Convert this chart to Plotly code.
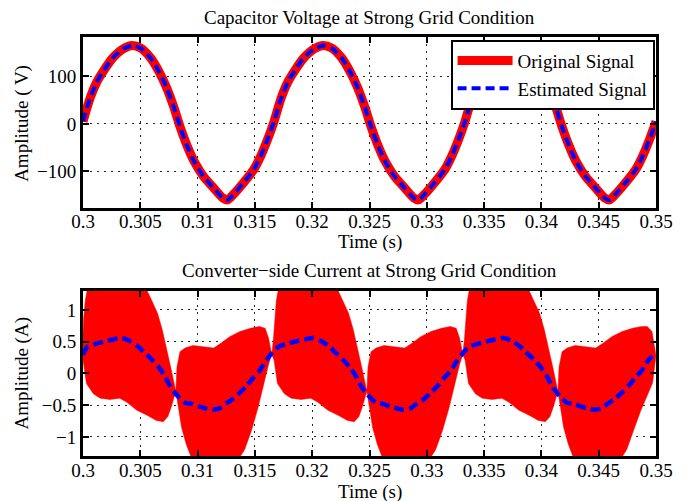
import plotly.graph_objects as go

# ---------------- data ----------------
x_ticks = [0.3, 0.305, 0.31, 0.315, 0.32, 0.325, 0.33, 0.335, 0.34, 0.345, 0.35]
x_ticklabels = ["0.3", "0.305", "0.31", "0.315", "0.32", "0.325", "0.33", "0.335", "0.34", "0.345", "0.35"]
volt_ticks = [-100, 0, 100]
volt_ticklabels = ["\u2212100", "0", "100"]
cur_ticks = [-1, -0.5, 0, 0.5, 1]
cur_ticklabels = ["\u22121", "\u22120.5", "0", "0.5", "1"]

# capacitor voltage (original and estimate overlap in the picture)
volt_t = [0.3000, 0.3006, 0.3012, 0.3018, 0.3026, 0.3035, 0.3043, 0.3050, 0.3059, 0.3067, 0.3073, 0.3079,
          0.3085, 0.3091, 0.3097, 0.3105, 0.3114, 0.3122, 0.3126, 0.3131, 0.3140, 0.3149, 0.3155, 0.3161,
          0.31667, 0.31727, 0.31787, 0.31847, 0.31927, 0.32017, 0.32097, 0.32167, 0.32257, 0.32337, 0.32397, 0.32457,
          0.32517, 0.32577, 0.32637, 0.32717, 0.32807, 0.32887, 0.32927, 0.32977, 0.33067, 0.33157, 0.33217, 0.33277,
          0.33333, 0.33393, 0.33453, 0.33513, 0.33593, 0.33683, 0.33763, 0.33833, 0.33923, 0.34003, 0.34063, 0.34123,
          0.34183, 0.34243, 0.34303, 0.34383, 0.34473, 0.34553, 0.34593, 0.34643, 0.34733, 0.34823, 0.34883, 0.34943,
          0.3500]
volt_original = [5, 53, 88, 112, 139, 158, 165, 160, 139, 107, 76, 37,
                 -8, -47, -79, -110, -135, -156, -160, -149, -124, -96, -68, -33,
                 5, 53, 88, 112, 139, 158, 165, 160, 139, 107, 76, 37,
                 -8, -47, -79, -110, -135, -156, -160, -149, -124, -96, -68, -33,
                 5, 53, 88, 112, 139, 158, 165, 160, 139, 107, 76, 37,
                 -8, -47, -79, -110, -135, -156, -160, -149, -124, -96, -68, -33,
                 5]
volt_estimated = [5, 53, 88, 112, 139, 158, 165, 160, 139, 107, 76, 37,
                  -8, -47, -79, -110, -135, -156, -160, -149, -124, -96, -68, -33,
                  5, 53, 88, 112, 139, 158, 165, 160, 139, 107, 76, 37,
                  -8, -47, -79, -110, -135, -156, -160, -149, -124, -96, -68, -33,
                  5, 53, 88, 112, 139, 158, 165, 160, 139, 107, 76, 37,
                  -8, -47, -79, -110, -135, -156, -160, -149, -124, -96, -68, -33,
                  5]

# converter-side current: envelope of the switching-ripple band (original)
cur_upper_t = [0.3000, 0.30005, 0.3002, 0.3004, 0.3010, 0.3028, 0.3050, 0.3056, 0.3060, 0.3065, 0.3069, 0.3073,
               0.30765, 0.3081, 0.3082, 0.30846, 0.3089, 0.3096, 0.3105, 0.3114, 0.3120, 0.3128, 0.3137, 0.3146,
               0.3154, 0.3159, 0.3162, 0.31647,
               0.31662, 0.31672, 0.31687, 0.31707, 0.31767, 0.31947, 0.32167, 0.32227, 0.32267, 0.32317, 0.32357, 0.32397,
               0.32432, 0.32477, 0.32487, 0.32513, 0.32557, 0.32627, 0.32717, 0.32807, 0.32867, 0.32947, 0.33037, 0.33127,
               0.33207, 0.33257, 0.33287, 0.33314,
               0.33329, 0.33339, 0.33354, 0.33374, 0.33434, 0.33614, 0.33834, 0.33894, 0.33934, 0.33984, 0.34024, 0.34064,
               0.34099, 0.34144, 0.34154, 0.34180, 0.34224, 0.34294, 0.34384, 0.34474, 0.34534, 0.34614, 0.34704, 0.34794,
               0.34874, 0.34924, 0.34965, 0.3500]
cur_upper = [0.62, 0.85, 1.15, 1.35, 1.50, 1.58, 1.45, 1.30, 1.15, 0.95, 0.70, 0.40,
             0.10, -0.28, 0.10, 0.34, 0.40, 0.44, 0.42, 0.40, 0.47, 0.58, 0.66, 0.71,
             0.74, 0.71, 0.55, 0.30,
             0.55, 0.85, 1.15, 1.35, 1.50, 1.58, 1.45, 1.30, 1.15, 0.95, 0.70, 0.40,
             0.10, -0.28, 0.10, 0.34, 0.40, 0.44, 0.42, 0.40, 0.47, 0.58, 0.66, 0.71,
             0.74, 0.71, 0.55, 0.30,
             0.55, 0.85, 1.15, 1.35, 1.50, 1.58, 1.45, 1.30, 1.15, 0.95, 0.70, 0.40,
             0.10, -0.28, 0.10, 0.34, 0.40, 0.44, 0.42, 0.40, 0.47, 0.58, 0.66, 0.71,
             0.74, 0.74, 0.66, 0.28]
cur_lower_t = [0.3000, 0.3003, 0.3009, 0.3015, 0.30235, 0.3032, 0.3038, 0.3047, 0.3056, 0.3064, 0.3070, 0.3074,
               0.3077, 0.3081, 0.30832, 0.3086, 0.3090, 0.3095, 0.3108, 0.3123, 0.3134, 0.3141, 0.3147, 0.3153,
               0.3158, 0.3162, 0.31647,
               0.31667, 0.31697, 0.31757, 0.31817, 0.31902, 0.31987, 0.32047, 0.32137, 0.32227, 0.32307, 0.32367, 0.32407,
               0.32437, 0.32477, 0.32499, 0.32527, 0.32567, 0.32617, 0.32747, 0.32897, 0.33007, 0.33077, 0.33137, 0.33197,
               0.33247, 0.33287, 0.33314,
               0.33334, 0.33364, 0.33424, 0.33484, 0.33569, 0.33654, 0.33714, 0.33804, 0.33894, 0.33974, 0.34034, 0.34074,
               0.34104, 0.34144, 0.34166, 0.34194, 0.34234, 0.34284, 0.34414, 0.34564, 0.34674, 0.34744, 0.34804, 0.34864,
               0.34914, 0.34970, 0.3500]
cur_lower = [0.21, -0.16, -0.32, -0.39, -0.41, -0.39, -0.45, -0.58, -0.66, -0.74, -0.76, -0.68,
             -0.53, -0.28, -0.53, -0.85, -1.11, -1.35, -1.55, -1.55, -1.40, -1.20, -0.90, -0.52,
             -0.15, 0.15, 0.30,
             0.21, -0.16, -0.32, -0.39, -0.41, -0.39, -0.45, -0.58, -0.66, -0.74, -0.76, -0.68,
             -0.53, -0.28, -0.53, -0.85, -1.11, -1.35, -1.55, -1.55, -1.40, -1.20, -0.90, -0.52,
             -0.15, 0.15, 0.30,
             0.21, -0.16, -0.32, -0.39, -0.41, -0.39, -0.45, -0.58, -0.66, -0.74, -0.76, -0.68,
             -0.53, -0.28, -0.53, -0.85, -1.11, -1.35, -1.55, -1.55, -1.40, -1.20, -0.90, -0.60,
             -0.38, -0.15, 0.28]

# converter-side current: estimate
cur_est_t = [0.3000, 0.3004, 0.3010, 0.3018, 0.3025, 0.3034, 0.3040, 0.3047, 0.3053, 0.3060, 0.3066, 0.3071,
             0.3076, 0.3080, 0.3084, 0.3089, 0.3095, 0.3101, 0.3107, 0.3113, 0.3119, 0.3125, 0.3131, 0.3137,
             0.3143, 0.3148, 0.3154, 0.3160,
             0.31667, 0.31707, 0.31767, 0.31847, 0.31917, 0.32007, 0.32067, 0.32137, 0.32197, 0.32267, 0.32327, 0.32377,
             0.32427, 0.32467, 0.32507, 0.32557, 0.32617, 0.32677, 0.32737, 0.32797, 0.32857, 0.32917, 0.32977, 0.33037,
             0.33097, 0.33147, 0.33207, 0.33267,
             0.33333, 0.33373, 0.33433, 0.33513, 0.33583, 0.33673, 0.33733, 0.33803, 0.33863, 0.33933, 0.33993, 0.34043,
             0.34093, 0.34133, 0.34173, 0.34223, 0.34283, 0.34343, 0.34403, 0.34463, 0.34523, 0.34583, 0.34643, 0.34703,
             0.34763, 0.34813, 0.34873, 0.34933, 0.3500]
cur_estimated = [0.30, 0.42, 0.46, 0.50, 0.53, 0.56, 0.52, 0.44, 0.34, 0.22, 0.10, -0.03,
                 -0.20, -0.30, -0.38, -0.46, -0.48, -0.52, -0.55, -0.57, -0.55, -0.47, -0.40, -0.30,
                 -0.19, -0.08, 0.04, 0.21,
                 0.36, 0.42, 0.46, 0.50, 0.53, 0.56, 0.52, 0.44, 0.34, 0.22, 0.10, -0.03,
                 -0.20, -0.30, -0.38, -0.46, -0.48, -0.52, -0.55, -0.57, -0.55, -0.47, -0.40, -0.30,
                 -0.19, -0.08, 0.04, 0.21,
                 0.36, 0.42, 0.46, 0.50, 0.53, 0.56, 0.52, 0.44, 0.34, 0.22, 0.10, -0.03,
                 -0.20, -0.30, -0.38, -0.46, -0.48, -0.52, -0.55, -0.57, -0.55, -0.47, -0.40, -0.30,
                 -0.19, -0.08, 0.04, 0.21, 0.32]

# ---------------- figure ----------------
FONT = "Liberation Serif"
RED = "#FF0000"
BLUE = "#0000FF"

fig = go.Figure()

fig.add_trace(go.Scatter(x=volt_t, y=volt_original, mode="lines", name="Original Signal",
                         line=dict(color=RED, width=9, shape="spline", smoothing=0.7),
                         xaxis="x", yaxis="y"))
fig.add_trace(go.Scatter(x=volt_t, y=volt_estimated, mode="lines", name="Estimated Signal",
                         line=dict(color=BLUE, width=4, dash="9px,5px", shape="spline", smoothing=0.7),
                         xaxis="x", yaxis="y"))

band_x = cur_upper_t + cur_lower_t[::-1]
band_y = cur_upper + cur_lower[::-1]
fig.add_trace(go.Scatter(x=band_x, y=band_y, mode="lines", fill="toself", fillcolor=RED,
                         line=dict(color=RED, width=0.5), showlegend=False,
                         xaxis="x2", yaxis="y2"))
fig.add_trace(go.Scatter(x=cur_est_t, y=cur_estimated, mode="lines", showlegend=False,
                         line=dict(color=BLUE, width=4.5, dash="10px,5px", shape="spline", smoothing=0.7),
                         xaxis="x2", yaxis="y2"))

axis_common = dict(showline=True, linewidth=3, linecolor="black", mirror="allticks",
                   ticks="inside", ticklen=6, tickwidth=2, tickcolor="black",
                   showgrid=True, gridcolor="#222222", gridwidth=1, griddash="2px,5px",
                   zeroline=False, tickfont=dict(family=FONT, size=19, color="black"))
xaxis_extra = dict(ticklabelstandoff=-5)

# The page body has an 8px margin, so the figure is 8px smaller and shifted accordingly.
fig.update_layout(
    width=681, height=493,
    margin=dict(l=75, r=33, t=29, b=45),
    paper_bgcolor="white", plot_bgcolor="white",
    xaxis=dict(domain=[0, 1], anchor="y", range=[0.3, 0.35], tickvals=x_ticks, ticktext=x_ticklabels,
               **axis_common, **xaxis_extra),
    yaxis=dict(domain=[0.593, 1], anchor="x", range=[-176, 183], tickvals=volt_ticks, ticktext=volt_ticklabels,
               **axis_common),
    xaxis2=dict(domain=[0, 1], anchor="y2", range=[0.3, 0.35], tickvals=x_ticks, ticktext=x_ticklabels,
                **axis_common, **xaxis_extra),
    yaxis2=dict(domain=[0, 0.394], anchor="x2", range=[-1.3, 1.3], tickvals=cur_ticks, ticktext=cur_ticklabels,
                **axis_common),
    legend=dict(x=0.9975, y=0.9935, xanchor="right", yanchor="top", bgcolor="white",
                bordercolor="black", borderwidth=2, font=dict(family=FONT, size=19, color="black"),
                itemwidth=55, tracegroupgap=0),
    showlegend=True,
)

txt = dict(family=FONT, size=19, color="black")
annotations = [
    dict(text="Capacitor Voltage at Strong Grid Condition", x=0.5, y=1.0477, xref="paper", yref="paper",
         xanchor="center", yanchor="middle", showarrow=False, font=txt),
    dict(text="Time (s)", x=0.5, y=0.5107, xref="paper", yref="paper",
         xanchor="center", yanchor="middle", showarrow=False, font=txt),
    dict(text="Converter\u2212side Current at Strong Grid Condition", x=0.5, y=0.4439, xref="paper", yref="paper",
         xanchor="center", yanchor="middle", showarrow=False, font=txt),
    dict(text="Time (s)", x=0.5, y=-0.0859, xref="paper", yref="paper",
         xanchor="center", yanchor="middle", showarrow=False, font=txt),
    dict(text="Amplitude ( V)", x=-0.1065, y=0.795, xref="paper", yref="paper", textangle=-90,
         xanchor="center", yanchor="middle", showarrow=False, font=txt),
    dict(text="Amplitude (A)", x=-0.1065, y=0.197, xref="paper", yref="paper", textangle=-90,
         xanchor="center", yanchor="middle", showarrow=False, font=txt),
]
fig.update_layout(annotations=annotations)

fig.write_html("out.html")
